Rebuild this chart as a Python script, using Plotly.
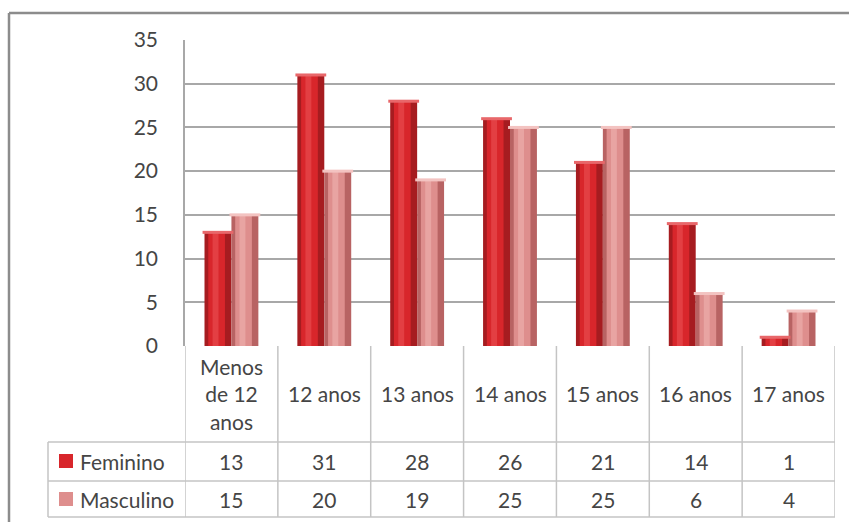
import plotly.graph_objects as go

categories = ["Menos<br>de 12<br>anos", "12 anos", "13 anos", "14 anos", "15 anos", "16 anos", "17 anos"]
series_names = ["Feminino", "Masculino"]
feminino = [13, 31, 28, 26, 21, 14, 1]
masculino = [15, 20, 19, 25, 25, 6, 4]
y_ticks = [0, 5, 10, 15, 20, 25, 30, 35]

W, H = 849, 522
L, R, T, B = 185, 835, 40, 346   # plot area in pixels
PW, PH = R - L, B - T

def px(x):
    return (x - L) / PW

def py(y):
    return (B - y) / PH

FONT = "Lato"
TXT = "#454545"
GRID = "#a8a8a8"
TABLE = "#c4c4c4"

fem_dark, fem_mid, fem_light = "#a61c20", "#d8262b", "#ec5357"
mas_dark, mas_mid, mas_light = "#b86363", "#de8e8d", "#f0b6b4"
fem_cap, mas_cap = "#e8676a", "#f3c3c1"

xs = list(range(len(categories)))
bw = 0.29

fig = go.Figure()

def add_series(vals, name, off, dark, mid, light, cap):
    # body with darker edges
    fig.add_trace(go.Bar(x=xs, y=vals, name=name, width=bw, offset=off,
                         marker=dict(color=dark, line=dict(width=0)),
                         showlegend=False, hoverinfo="y"))
    fig.add_trace(go.Bar(x=xs, y=vals, width=bw * 0.62, offset=off + bw * 0.14,
                         marker=dict(color=mid, line=dict(width=0)),
                         showlegend=False, hoverinfo="skip"))
    fig.add_trace(go.Bar(x=xs, y=vals, width=bw * 0.22, offset=off + bw * 0.3,
                         marker=dict(color=light, line=dict(width=0), opacity=0.55),
                         showlegend=False, hoverinfo="skip"))
    # lighter cap on top of each column
    fig.add_trace(go.Scatter(x=[i + off + bw / 2 for i in xs], y=vals, mode="markers",
                             marker=dict(symbol="line-ew-open", size=22, color=cap,
                                         line=dict(color=cap, width=3)),
                             showlegend=False, hoverinfo="skip", cliponaxis=False))

add_series(feminino, series_names[0], -bw, fem_dark, fem_mid, fem_light, fem_cap)
add_series(masculino, series_names[1], 0.0, mas_dark, mas_mid, mas_light, mas_cap)

fig.update_layout(
    width=W, height=H,
    margin=dict(l=L, r=W - R, t=T, b=H - B),
    paper_bgcolor="white", plot_bgcolor="white",
    barmode="overlay",
    font=dict(family=FONT, color=TXT, size=21),
    xaxis=dict(range=[-0.5, len(categories) - 0.5], showticklabels=False,
               showgrid=False, zeroline=False, showline=False, fixedrange=True),
    yaxis=dict(range=[0, 35], tickvals=y_ticks, showgrid=True, gridcolor=GRID,
               gridwidth=1.5, zeroline=False, showline=True, linecolor=GRID,
               linewidth=1.5, ticks="", ticklabelstandoff=21,
               tickfont=dict(size=21, color=TXT, family=FONT)),
)

shapes = []
# outer chart border (top and left)
shapes.append(dict(type="line", xref="paper", yref="paper", x0=px(9), x1=px(W + 5),
                   y0=py(13), y1=py(13), line=dict(color="#8c8c8c", width=2.5)))
shapes.append(dict(type="line", xref="paper", yref="paper", x0=px(9), x1=px(9),
                   y0=py(13), y1=py(H + 5), line=dict(color="#8c8c8c", width=2.5)))

# data table grid
row_y = [346, 442, 481, 517]
for i in range(len(categories) + 1):
    shapes.append(dict(type="line", xref="x", yref="paper", x0=i - 0.5, x1=i - 0.5,
                       y0=py(346), y1=py(517), line=dict(color=TABLE, width=1.5)))
for yy in row_y[1:]:
    shapes.append(dict(type="line", xref="paper", yref="paper", x0=px(48), x1=1,
                       y0=py(yy), y1=py(yy), line=dict(color=TABLE, width=1.5)))
shapes.append(dict(type="line", xref="paper", yref="paper", x0=px(48), x1=px(48),
                   y0=py(442), y1=py(517), line=dict(color=TABLE, width=1.5)))

# legend keys in the table
key_colors = [fem_mid, mas_mid]
key_y = [461, 499]
for c, yy in zip(key_colors, key_y):
    shapes.append(dict(type="rect", xref="paper", yref="paper", x0=px(59), x1=px(73),
                       y0=py(yy + 7), y1=py(yy - 7), fillcolor=c,
                       line=dict(color=c, width=0)))

fig.update_layout(shapes=shapes)

ann = []
for i, c in enumerate(categories):
    ann.append(dict(x=i, y=py(394), xref="x", yref="paper", text=c, showarrow=False,
                    xanchor="center", yanchor="middle",
                    font=dict(size=21, color=TXT, family=FONT), align="center"))
for name, vals, yy in zip(series_names, [feminino, masculino], key_y):
    ann.append(dict(x=px(78), y=py(yy), xref="paper", yref="paper", text=name,
                    showarrow=False, xanchor="left", yanchor="middle",
                    font=dict(size=21, color=TXT, family=FONT)))
    for i, v in enumerate(vals):
        ann.append(dict(x=i, y=py(yy), xref="x", yref="paper", text=str(v),
                        showarrow=False, xanchor="center", yanchor="middle",
                        font=dict(size=21, color=TXT, family=FONT)))
fig.update_layout(annotations=ann)

fig.write_html("out.html")
